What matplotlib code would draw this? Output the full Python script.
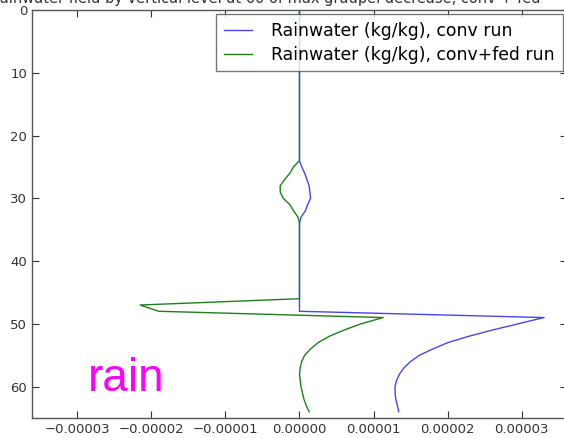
import matplotlib
matplotlib.use('Agg')
import matplotlib.pyplot as plt
from matplotlib.ticker import MultipleLocator, FuncFormatter

# rainwater profiles, values in units of 1e-5 kg/kg, indexed by vertical level
conv_levels = [0, 24, 25, 26, 27, 28, 29, 30, 31, 32, 33, 34, 48,
               49, 50, 51, 52, 53, 54, 55, 56, 57, 58, 59, 60, 61, 62, 63, 64]
conv_rain = [0.0, 0.0, 0.03, 0.07, 0.10, 0.13, 0.14, 0.15, 0.11, 0.08, 0.02, 0.0, 0.0,
             3.30, 2.95, 2.60, 2.28, 2.00, 1.80, 1.62, 1.50, 1.41, 1.35, 1.31, 1.29, 1.29, 1.30, 1.32, 1.34]

fed_levels = [0, 24, 25, 26, 27, 28, 29, 30, 31, 32, 33, 34, 46, 47, 48,
              49, 50, 51, 52, 53, 54, 55, 56, 57, 58, 59, 60, 61, 62, 63, 64]
fed_rain = [0.0, 0.0, -0.08, -0.13, -0.20, -0.26, -0.26, -0.22, -0.13, -0.08, -0.02, 0.0, 0.0, -2.15, -1.90,
            1.13, 0.83, 0.60, 0.40, 0.25, 0.15, 0.07, 0.03, 0.01, 0.0, 0.01, 0.02, 0.04, 0.06, 0.09, 0.13]

scale = 1e-5
conv_x = [v * scale for v in conv_rain]
fed_x = [v * scale for v in fed_rain]

fig = plt.figure(figsize=(5.64, 4.38), dpi=100)
ax = fig.add_axes([0.0567, 0.0457, 0.9486, 0.9315])

ax.plot(conv_x, conv_levels, color='#4646ee', lw=1.0, label='Rainwater (kg/kg), conv run')
ax.plot(fed_x, fed_levels, color='#1e7e1e', lw=1.0, label='Rainwater (kg/kg), conv+fed run')

xmax = 3.61e-5
ax.set_xlim(-xmax, xmax)
ax.set_ylim(65, 0)
ax.xaxis.set_major_locator(MultipleLocator(1e-5))
ax.yaxis.set_major_locator(MultipleLocator(10))
ax.xaxis.set_major_formatter(FuncFormatter(lambda v, p: ('%.5f' % v).replace('-', '\u2212')))
ax.tick_params(direction='in', top=True, right=True, length=5, labelsize=9.5, colors='#333333')
for s in ax.spines.values():
    s.set_color('#555555')
    s.set_linewidth(1.0)

leg = ax.legend(loc='upper right', fontsize=12.4, fancybox=False, borderaxespad=0.25,
                handlelength=1.6, handletextpad=1.15, labelspacing=0.32, borderpad=0.45)
leg.get_frame().set_edgecolor('#555555')
leg.get_frame().set_linewidth(1.0)

fig.text(0.47, 1 - 3 / 438, 'Rainwater field by vertical level at 60 of max graupel decrease, conv + fed',
         ha='center', va='baseline', fontsize=10.5, color='#333333')

fig.text(88 / 564, 1 - 391 / 438, 'rain', family='Liberation Sans', fontsize=33,
         color='#ff00ff', ha='left', va='baseline')

fig.savefig('out.png', dpi=100)
